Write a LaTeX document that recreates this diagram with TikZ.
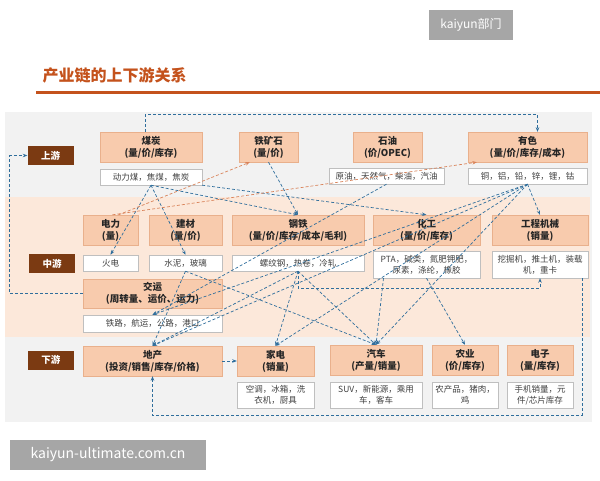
\documentclass[tikz,border=0pt]{standalone}
\usepackage{fontspec}
\setmainfont{Noto Sans CJK SC}
\usetikzlibrary{arrows.meta}

\definecolor{titleorange}{HTML}{C4521C}
\definecolor{stagebrown}{HTML}{7B3A12}
\definecolor{peach}{HTML}{F8CBAD}
\definecolor{peachline}{HTML}{E9B08C}
\definecolor{panelgray}{HTML}{F2F2F2}
\definecolor{bandpeach}{HTML}{FCE8DA}
\definecolor{linkblue}{HTML}{2F6E9C}
\definecolor{linkorange}{HTML}{D9835A}
\definecolor{wmgray}{HTML}{A6A6A6}

\begin{document}
\begin{tikzpicture}[x=1pt,y=-1pt,
    stage/.style={fill=stagebrown,text=white,font=\fontsize{9.5}{11}\selectfont\bfseries,
      minimum width=46pt,minimum height=19pt,inner sep=0pt},
    mainbox/.style={fill=peach,draw=peachline,text=black!85,align=center,
      font=\fontsize{9.5}{12}\selectfont\bfseries,minimum height=30pt,inner sep=0pt},
    detbox/.style={fill=white,draw=black!25,text=black!75,align=center,
      font=\fontsize{8.5}{11}\selectfont,minimum height=16pt,inner sep=0pt},
    link/.style={densely dashed,draw=linkblue,line width=0.7pt,
      -{Stealth[length=4.5pt,width=3.5pt]}},
    backlink/.style={densely dashed,draw=linkorange,line width=0.7pt,
      -{Stealth[length=4.5pt,width=3.5pt]}}]
            \useasboundingbox (0,0) rectangle (600,480);

            % watermarks and title
            \node[fill=wmgray,text=white,minimum width=84pt,minimum height=30pt,
                font=\fontsize{12}{12}\selectfont] (wmtop) at (471,25) {kaiyun部门};
            \node[anchor=west,text=titleorange,font=\fontsize{16}{16}\selectfont\bfseries]
                (title) at (39,75) {产业链的上下游关系};
            \draw[titleorange,line width=3pt] (36,92) -- (600,92);
            \node[fill=wmgray,text=white,minimum width=196pt,minimum height=30pt,
                font=\fontsize{14}{14}\selectfont] (wmbot) at (108,455) {kaiyun-ultimate.com.cn};

            % background bands
            \fill[panelgray] (5,112) rectangle (592,422);
            \fill[bandpeach] (5,197) rectangle (590,337);

            % stages
            \node[stage] (up) at (50.5,155.5) {上游};
            \node[stage] (mid) at (52,263.5) {中游};
            \node[stage] (down) at (51,360) {下游};

            % upstream
            \node[mainbox,minimum width=102pt] (coal) at (151,147) {煤炭\\(量/价/库存)};
            \node[detbox,minimum width=102pt] (coald) at (151,177) {动力煤，焦煤，焦炭};
            \node[mainbox,minimum width=59pt] (iron) at (268.5,147) {铁矿石\\(量/价)};
            \node[mainbox,minimum width=69pt] (oil) at (387.5,147) {石油\\(价/OPEC)};
            \node[detbox,minimum width=115pt] (oild) at (386.5,176) {原油，天然气，柴油，汽油};
            \node[mainbox,minimum width=119pt] (metal) at (527.5,147) {有色\\(量/价/库存/成本)};
            \node[detbox,minimum width=119pt] (metald) at (527.5,176) {铜，铝，铅，锌，锂，钴};

            % midstream
            \node[mainbox,minimum width=55pt] (power) at (110.5,230) {电力\\(量)};
            \node[detbox,minimum width=55pt] (powerd) at (110.5,263) {火电};
            \node[mainbox,minimum width=73pt] (build) at (185.5,230) {建材\\(量/价)};
            \node[detbox,minimum width=73pt] (buildd) at (185.5,263) {水泥，玻璃};
            \node[mainbox,minimum width=132pt] (steel) at (298,230) {钢铁\\(量/价/库存/成本/毛利)};
            \node[detbox,minimum width=132pt] (steeld) at (298,263) {螺纹钢，热卷，冷轧};
            \node[mainbox,minimum width=107pt] (chem) at (426.5,230) {化工\\(量/价/库存)};
            \node[detbox,minimum width=107pt,minimum height=27pt] (chemd) at (426.5,264.5)
                {PTA，碱类，氮肥钾肥，\\尿素，涤纶，橡胶};
            \node[mainbox,minimum width=96pt] (mach) at (540,230) {工程机械\\(销量)};
            \node[detbox,minimum width=96pt,minimum height=27pt] (machd) at (540,264.5)
                {挖掘机，推土机，装载\\机，重卡};
            \node[mainbox,minimum width=139pt,minimum height=29pt] (trans) at (152.5,293.5)
                {交运\\(周转量、运价、运力)};
            \node[detbox,minimum width=139pt,minimum height=17pt] (transd) at (152.5,323.5)
                {铁路，航运，公路，港口};

            % downstream
            \node[mainbox,minimum width=139pt] (estate) at (152.5,361) {地产\\(投资/销售/库存/价格)};
            \node[mainbox,minimum width=77pt] (appl) at (275.5,361) {家电\\(销量)};
            \node[detbox,minimum width=77pt,minimum height=26pt] (appld) at (275.5,395)
                {空调，冰箱，洗\\衣机，厨具};
            \node[mainbox,minimum width=92pt] (auto) at (376,360) {汽车\\(产量/销量)};
            \node[detbox,minimum width=92pt,minimum height=26pt] (autod) at (376,395)
                {SUV，新能源，乘用\\车，客车};
            \node[mainbox,minimum width=66pt] (agri) at (465,360) {农业\\(价/库存)};
            \node[detbox,minimum width=66pt,minimum height=26pt] (agrid) at (465,395)
                {农产品，猪肉，\\鸡};
            \node[mainbox,minimum width=66pt] (elec) at (540,360) {电子\\(量/库存)};
            \node[detbox,minimum width=66pt,minimum height=26pt] (elecd) at (540,395)
                {手机销量，元\\件/芯片库存};

            % connectors
            \draw[link] ([xshift=-6pt]coal.north) -- ++(0,-17) -| ([xshift=10pt]metal.north);
            \draw[link] (trans.west) -- ++(-73,0) |- (up.west);
            \foreach \t in {powerd.north,buildd.north,steel.north}
                \draw[link] (coald.south) -- (\t);
            \draw[link] (coald.south east) -- (chem.north);
            \draw[link] (iron.south) -- (steel.north);
            \draw[link] (oild.south) -- (transd.north);
            \foreach \t in {mach.north,transd.north,estate.north,appl.north,auto.north}
                \draw[link] (metald.south) -- (\t);
            \foreach \t in {estate.north,appl.north,auto.north}
                \draw[link] (steeld.south) -- (\t);
            \draw[link] (steeld.south) -- ++(0,17) -| (machd.south);
            \foreach \t in {estate.north,auto.north}
                \draw[link] (buildd.south) -- (\t);
            \draw[link] ([xshift=-43pt]chemd.south) -- (auto.north);
            \draw[link] (chemd.south) -- (agri.north);
            \draw[link] ([xshift=-6pt]machd.south east) -- ++(0,137) -| (estate.south);
            \draw[link] (estate.east) -- (appl.west);
            \draw[backlink] ([xshift=8pt]power.north) -- ([xshift=11pt]iron.south west);
            \draw[backlink] ([xshift=2pt]power.north) -- ([xshift=9pt]metal.south west);
        \end{tikzpicture}
\end{document}
